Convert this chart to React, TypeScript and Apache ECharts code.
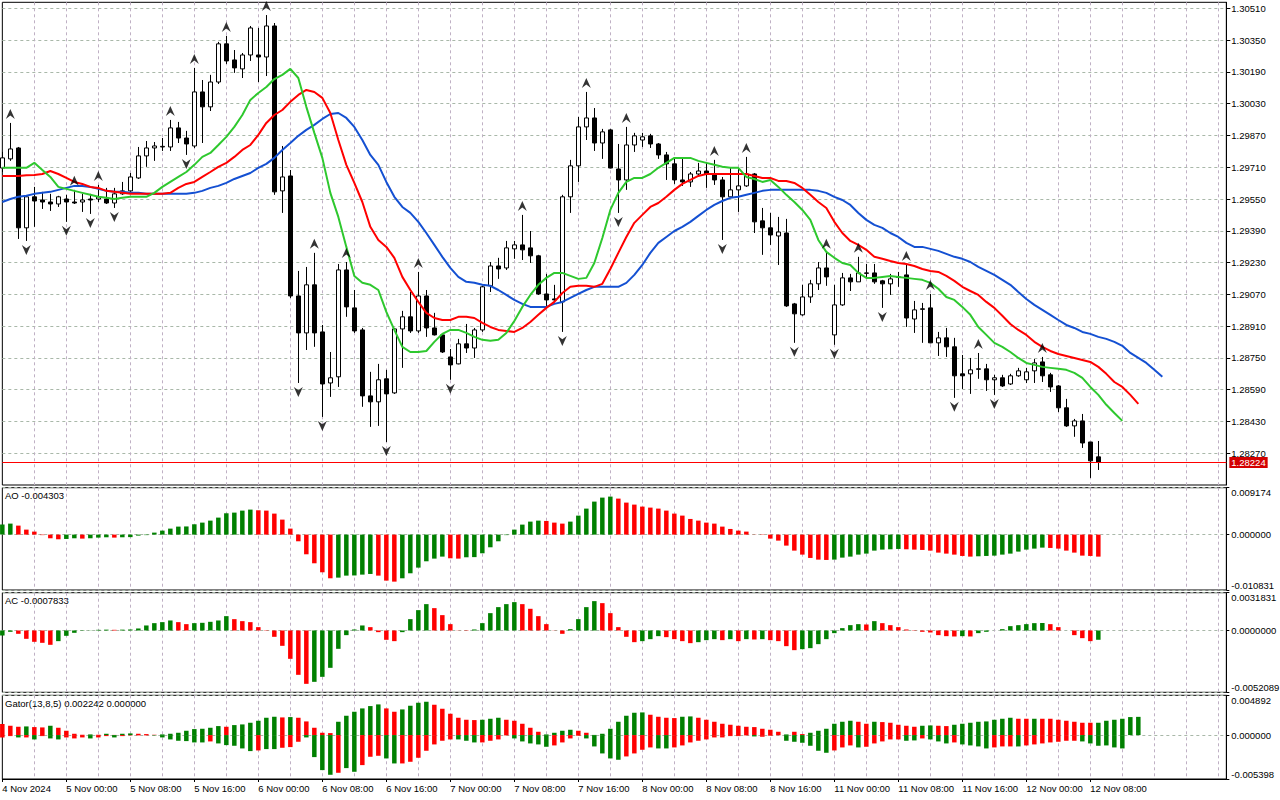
import React, { useEffect, useRef } from "react";
import * as echarts from "echarts";

const TIME_LABELS = ["4 Nov 2024","5 Nov 00:00","5 Nov 08:00","5 Nov 16:00","6 Nov 00:00","6 Nov 08:00","6 Nov 16:00","7 Nov 00:00","7 Nov 08:00","7 Nov 16:00","8 Nov 00:00","8 Nov 08:00","8 Nov 16:00","11 Nov 00:00","11 Nov 08:00","11 Nov 16:00","12 Nov 00:00","12 Nov 08:00"];
const SLOT_COUNT = 154;

const PRICE_TICKS = [1.28270,1.28430,1.28590,1.28750,1.28910,1.29070,1.29230,1.29390,1.29550,1.29710,1.29870,1.30030,1.30190,1.30350,1.30510];
const PRICE_RANGE = [1.281104, 1.305402];
const AO_RANGE = [-0.010831, 0.009174];
const AC_RANGE = [-0.0052089, 0.0031831];
const GATOR_RANGE = [-0.005398, 0.004892];

const OPEN = [1.29706,1.29752,1.29807,1.29405,1.29561,1.29545,1.29535,1.29525,1.29550,1.29535,
1.29535,1.29550,1.29550,1.29550,1.29530,1.29576,1.29591,1.29656,1.29767,1.29807,
1.29812,1.29812,1.29908,1.29857,1.29817,1.30089,1.30014,1.30139,1.30331,1.30250,
1.30205,1.30275,1.30275,1.30265,1.30421,1.29591,1.29666,1.29062,1.28876,1.29118,
1.28881,1.28624,1.28655,1.29193,1.29002,1.28891,1.28559,1.28529,1.28645,1.28574,
1.28896,1.28957,1.28886,1.29062,1.28901,1.28866,1.28755,1.28720,1.28821,1.28800,
1.28891,1.29113,1.29213,1.29203,1.29299,1.29319,1.29304,1.29264,1.29072,1.29047,
1.29032,1.29561,1.29717,1.29913,1.29958,1.29832,1.29898,1.29701,1.29646,1.29822,
1.29847,1.29868,1.29827,1.29772,1.29727,1.29646,1.29636,1.29676,1.29691,1.29676,
1.29646,1.29561,1.29596,1.29616,1.29676,1.29440,1.29405,1.29364,1.29379,1.29022,
1.28967,1.29057,1.29123,1.29203,1.28866,1.29017,1.29153,1.29133,1.29178,1.29178,
1.29138,1.29123,1.29158,1.29168,1.28946,1.28997,1.29002,1.28826,1.28851,1.28806,
1.28670,1.28670,1.28695,1.28695,1.28640,1.28650,1.28619,1.28660,1.28640,1.28685,
1.28730,1.28665,1.28609,1.28499,1.28408,1.28433,1.28327,1.28252];

const CLOSE = [1.29757,1.29802,1.29405,1.29561,1.29540,1.29535,1.29525,1.29561,1.29535,1.29530,
1.29545,1.29545,1.29561,1.29530,1.29576,1.29591,1.29661,1.29767,1.29807,1.29817,
1.29815,1.29908,1.29857,1.29827,1.30089,1.30014,1.30139,1.30331,1.30245,1.30210,
1.30275,1.30411,1.30265,1.30421,1.29586,1.29661,1.29062,1.28876,1.29118,1.28876,
1.28619,1.28650,1.29193,1.29007,1.28886,1.28559,1.28529,1.28640,1.28569,1.28896,
1.28957,1.28886,1.29062,1.28901,1.28866,1.28780,1.28715,1.28821,1.28800,1.28891,
1.29108,1.29213,1.29198,1.29304,1.29319,1.29294,1.29264,1.29072,1.29042,1.29042,
1.29561,1.29717,1.29913,1.29958,1.29832,1.29888,1.29706,1.29646,1.29822,1.29868,
1.29863,1.29827,1.29772,1.29727,1.29646,1.29636,1.29676,1.29691,1.29676,1.29646,
1.29561,1.29596,1.29616,1.29676,1.29435,1.29405,1.29369,1.29384,1.29012,1.28972,
1.29057,1.29123,1.29203,1.29158,1.29017,1.29153,1.29133,1.29178,1.29176,1.29133,
1.29123,1.29148,1.29155,1.28951,1.28992,1.28995,1.28826,1.28851,1.28806,1.28660,
1.28660,1.28690,1.28693,1.28640,1.28650,1.28609,1.28660,1.28685,1.28680,1.28725,
1.28660,1.28604,1.28499,1.28408,1.28433,1.28322,1.28232,1.28224];

const LOW = [1.29686,1.29742,1.29349,1.29339,1.29410,1.29500,1.29490,1.29510,1.29435,1.29525,
1.29485,1.29475,1.29535,1.29525,1.29505,1.29571,1.29586,1.29651,1.29712,1.29742,
1.29792,1.29792,1.29832,1.29772,1.29807,1.29832,1.29993,1.30129,1.30230,1.30185,
1.30159,1.30245,1.30139,1.30169,1.29571,1.29480,1.29052,1.28624,1.28790,1.28806,
1.28453,1.28554,1.28604,1.28957,1.28876,1.28504,1.28403,1.28408,1.28327,1.28569,
1.28700,1.28876,1.28876,1.28856,1.28863,1.28775,1.28640,1.28718,1.28775,1.28750,
1.28881,1.29082,1.29148,1.29193,1.29249,1.29243,1.29228,1.29067,1.29007,1.29032,
1.28881,1.29480,1.29636,1.29847,1.29792,1.29752,1.29704,1.29480,1.29596,1.29787,
1.29812,1.29807,1.29752,1.29646,1.29626,1.29616,1.29611,1.29671,1.29606,1.29621,
1.29344,1.29561,1.29485,1.29611,1.29379,1.29269,1.29319,1.29218,1.29007,1.28826,
1.28962,1.29027,1.29092,1.29113,1.28816,1.29012,1.29087,1.29133,1.29148,1.29123,
1.29002,1.29067,1.29108,1.28906,1.28876,1.28826,1.28824,1.28760,1.28755,1.28549,
1.28594,1.28569,1.28645,1.28584,1.28564,1.28604,1.28614,1.28655,1.28624,1.28624,
1.28629,1.28579,1.28478,1.28403,1.28353,1.28297,1.28146,1.28186];

const HIGH = [1.29787,1.29933,1.29812,1.29566,1.29611,1.29586,1.29576,1.29566,1.29571,1.29596,
1.29576,1.29576,1.29621,1.29606,1.29606,1.29636,1.29681,1.29812,1.29842,1.29837,
1.29857,1.29948,1.29938,1.29893,1.30210,1.30149,1.30175,1.30341,1.30371,1.30300,
1.30285,1.30421,1.30411,1.30476,1.30436,1.29817,1.29696,1.29188,1.29208,1.29279,
1.28916,1.28780,1.29223,1.29233,1.29092,1.28901,1.28680,1.28720,1.28690,1.28901,
1.28987,1.29082,1.29183,1.29092,1.28977,1.28871,1.28795,1.28846,1.28921,1.28901,
1.29113,1.29233,1.29254,1.29339,1.29339,1.29470,1.29389,1.29269,1.29173,1.29118,
1.29571,1.29747,1.29963,1.30089,1.30008,1.29903,1.29903,1.29827,1.29913,1.29883,
1.29883,1.29878,1.29832,1.29787,1.29752,1.29752,1.29686,1.29732,1.29732,1.29747,
1.29661,1.29706,1.29706,1.29762,1.29681,1.29505,1.29480,1.29460,1.29450,1.29027,
1.29118,1.29143,1.29233,1.29279,1.29118,1.29178,1.29173,1.29259,1.29223,1.29223,
1.29143,1.29173,1.29183,1.29218,1.29037,1.29027,1.29072,1.28881,1.28901,1.28851,
1.28765,1.28750,1.28775,1.28720,1.28665,1.28665,1.28670,1.28700,1.28700,1.28745,
1.28755,1.28675,1.28614,1.28544,1.28443,1.28468,1.28327,1.28332];

const FRACTAL_UP = [1,9,12,21,24,28,33,39,43,52,65,73,78,89,93,103,107,113,116,122,130];
const FRACTAL_DOWN = [3,8,11,14,23,37,40,48,56,70,77,90,99,104,110,119,124];

const LIPS = [1.29707,1.29707,1.29707,1.29707,1.29732,1.29696,1.29661,1.29611,1.29601,1.29591,
1.29581,1.29571,1.29561,1.29556,1.29550,1.29556,1.29561,1.29561,1.29561,1.29581,
1.29611,1.29636,1.29661,1.29686,1.29722,1.29762,1.29782,1.29822,1.29863,1.29913,
1.29973,1.30049,1.30084,1.30114,1.30154,1.30175,1.30205,1.30159,1.30014,1.29883,
1.29757,1.29581,1.29460,1.29309,1.29163,1.29128,1.29118,1.29092,1.28982,1.28891,
1.28806,1.28780,1.28780,1.28785,1.28831,1.28871,1.28891,1.28891,1.28876,1.28856,
1.28841,1.28836,1.28841,1.28876,1.28936,1.29007,1.29067,1.29118,1.29153,1.29178,
1.29178,1.29163,1.29148,1.29153,1.29228,1.29354,1.29495,1.29581,1.29636,1.29656,
1.29656,1.29676,1.29707,1.29732,1.29757,1.29757,1.29757,1.29742,1.29732,1.29722,
1.29712,1.29707,1.29707,1.29661,1.29651,1.29636,1.29646,1.29611,1.29571,1.29535,
1.29495,1.29445,1.29344,1.29284,1.29254,1.29228,1.29218,1.29178,1.29153,1.29153,
1.29158,1.29163,1.29158,1.29153,1.29148,1.29143,1.29128,1.29098,1.29057,1.29042,
1.29007,1.28967,1.28906,1.28866,1.28826,1.28806,1.28780,1.28750,1.28725,1.28715,
1.28705,1.28700,1.28695,1.28690,1.28675,1.28650,1.28604,1.28564,1.28514,1.28473,
1.28433];

const TEETH = [1.29666,1.29666,1.29666,1.29669,1.29671,1.29676,1.29691,1.29676,1.29656,1.29636,
1.29626,1.29611,1.29606,1.29591,1.29586,1.29581,1.29576,1.29576,1.29576,1.29576,
1.29576,1.29581,1.29606,1.29626,1.29636,1.29661,1.29686,1.29712,1.29732,1.29762,
1.29797,1.29822,1.29873,1.29933,1.29973,1.29998,1.30039,1.30074,1.30099,1.30089,
1.30059,1.29983,1.29847,1.29722,1.29631,1.29535,1.29410,1.29344,1.29309,1.29254,
1.29158,1.29092,1.29032,1.28977,1.28951,1.28941,1.28941,1.28957,1.28957,1.28951,
1.28926,1.28906,1.28891,1.28886,1.28881,1.28901,1.28931,1.28967,1.29002,1.29032,
1.29077,1.29108,1.29113,1.29113,1.29108,1.29123,1.29198,1.29279,1.29359,1.29430,
1.29470,1.29510,1.29530,1.29561,1.29596,1.29626,1.29646,1.29666,1.29676,1.29676,
1.29676,1.29676,1.29676,1.29676,1.29666,1.29656,1.29656,1.29641,1.29641,1.29631,
1.29606,1.29571,1.29535,1.29505,1.29435,1.29379,1.29339,1.29319,1.29294,1.29259,
1.29249,1.29238,1.29228,1.29223,1.29213,1.29198,1.29188,1.29183,1.29163,1.29138,
1.29108,1.29087,1.29067,1.29032,1.29002,1.28962,1.28921,1.28891,1.28866,1.28831,
1.28806,1.28785,1.28770,1.28760,1.28750,1.28740,1.28730,1.28705,1.28670,1.28629,
1.28604,1.28564,1.28519];

const JAW = [1.29535,1.29550,1.29561,1.29566,1.29576,1.29581,1.29586,1.29596,1.29606,1.29616,
1.29616,1.29611,1.29601,1.29591,1.29586,1.29586,1.29581,1.29581,1.29576,1.29576,
1.29576,1.29576,1.29576,1.29576,1.29581,1.29591,1.29606,1.29616,1.29631,1.29651,
1.29666,1.29681,1.29707,1.29727,1.29757,1.29797,1.29832,1.29868,1.29898,1.29923,
1.29953,1.29978,1.29983,1.29958,1.29913,1.29847,1.29772,1.29722,1.29636,1.29561,
1.29510,1.29480,1.29435,1.29379,1.29319,1.29259,1.29203,1.29158,1.29133,1.29128,
1.29118,1.29113,1.29092,1.29067,1.29042,1.29022,1.29007,1.29007,1.29007,1.29022,
1.29032,1.29052,1.29072,1.29092,1.29108,1.29108,1.29108,1.29108,1.29128,1.29168,
1.29218,1.29279,1.29329,1.29359,1.29389,1.29410,1.29435,1.29465,1.29495,1.29520,
1.29540,1.29556,1.29561,1.29571,1.29581,1.29591,1.29596,1.29596,1.29596,1.29596,
1.29596,1.29596,1.29591,1.29581,1.29561,1.29545,1.29520,1.29480,1.29445,1.29420,
1.29405,1.29379,1.29359,1.29329,1.29309,1.29309,1.29299,1.29289,1.29274,1.29259,
1.29249,1.29233,1.29208,1.29188,1.29168,1.29143,1.29118,1.29082,1.29047,1.29017,
1.28992,1.28967,1.28941,1.28916,1.28901,1.28881,1.28871,1.28856,1.28846,1.28831,
1.28811,1.28775,1.28750,1.28725,1.28690,1.28655];

const AO = [0.001956,0.002152,0.001760,0.000978,0.000587,-0.000098,-0.000717,-0.000913,-0.000848,-0.000717,
-0.000782,-0.000717,-0.000587,-0.000522,-0.000587,-0.000522,-0.000489,-0.000196,-0.000098,0.000391,
0.000782,0.001174,0.001565,0.001597,0.002021,0.002347,0.002738,0.003325,0.004173,0.004303,
0.004694,0.004890,0.004760,0.004694,0.004108,0.002934,0.001174,-0.001304,-0.003847,-0.005607,
-0.007368,-0.008541,-0.008411,-0.008020,-0.007987,-0.007824,-0.007694,-0.008020,-0.008998,-0.009193,
-0.008541,-0.007563,-0.006455,-0.005216,-0.004694,-0.004303,-0.004629,-0.004694,-0.004434,-0.004401,
-0.003651,-0.002478,-0.001304,-0.000098,0.000978,0.001956,0.002543,0.002738,0.002673,0.002347,
0.002152,0.002543,0.003716,0.005086,0.006455,0.007237,0.007433,0.007042,0.006259,0.005868,
0.005477,0.005281,0.005086,0.004694,0.004108,0.003716,0.003064,0.002738,0.002347,0.002152,
0.001565,0.001108,0.000782,0.000587,0.000033,-0.000065,-0.000782,-0.001174,-0.002152,-0.003130,
-0.003912,-0.004564,-0.004890,-0.004955,-0.004890,-0.004499,-0.004303,-0.003912,-0.003716,-0.003130,
-0.002934,-0.002869,-0.002804,-0.002869,-0.002934,-0.002999,-0.003130,-0.003521,-0.003716,-0.003912,
-0.004173,-0.004303,-0.004238,-0.004173,-0.004108,-0.003912,-0.003716,-0.003325,-0.002934,-0.002738,
-0.002543,-0.002608,-0.002738,-0.003130,-0.003521,-0.004108,-0.004173,-0.004303];

const AC = [-0.000422,-0.000112,-0.000281,-0.000703,-0.000955,-0.001040,-0.001208,-0.000899,-0.000450,-0.000197,
-0.000028,0.000014,0.000056,0.000070,0.000056,0.000070,0.000084,0.000169,0.000422,0.000618,
0.000703,0.000843,0.000703,0.000534,0.000618,0.000646,0.000731,0.000843,0.001208,0.000955,
0.000787,0.000703,0.000281,-0.000028,-0.000534,-0.001293,-0.002389,-0.003737,-0.004496,-0.004327,
-0.003906,-0.003147,-0.001546,-0.000393,0.000084,0.000422,0.000281,-0.000141,-0.000787,-0.000899,
-0.000141,0.000955,0.001714,0.002220,0.001883,0.001293,0.000534,-0.000014,-0.000028,0.000084,
0.000618,0.001461,0.001967,0.002220,0.002389,0.002220,0.001827,0.001208,0.000534,-0.000014,
-0.000281,0.000112,0.000955,0.001967,0.002473,0.002304,0.001461,0.000281,-0.000534,-0.000984,
-0.000899,-0.000731,-0.000478,-0.000562,-0.000731,-0.000899,-0.001068,-0.000984,-0.000815,-0.000731,
-0.000815,-0.000731,-0.000899,-0.000731,-0.000759,-0.000731,-0.000815,-0.000899,-0.001321,-0.001658,
-0.001574,-0.001489,-0.001152,-0.000731,-0.000225,0.000197,0.000450,0.000534,0.000506,0.000787,
0.000618,0.000450,0.000281,0.000084,-0.000028,-0.000112,-0.000169,-0.000393,-0.000478,-0.000506,
-0.000478,-0.000506,-0.000225,-0.000112,0.000000,0.000112,0.000365,0.000450,0.000534,0.000618,
0.000632,0.000534,0.000281,0.000000,-0.000393,-0.000646,-0.000899,-0.0007833];

const GATOR_UP = [0.001353,0.001148,0.001025,0.001066,0.000984,0.000943,0.001148,0.000902,0.000533,0.000164,
0.000041,0.000082,0.000041,0.000164,0.000021,0.000164,0.000205,0.000164,0.000123,0.000041,
0.000082,0.000164,0.000287,0.000533,0.000738,0.000779,0.000902,0.001107,0.001025,0.001230,
0.001312,0.001517,0.001763,0.002132,0.002255,0.002173,0.002214,0.002132,0.001681,0.000902,
0.000287,0.000246,0.001640,0.002378,0.002870,0.003280,0.003567,0.003772,0.003280,0.002870,
0.003157,0.003608,0.003977,0.004100,0.003731,0.003239,0.002624,0.002132,0.001886,0.001845,
0.001886,0.002009,0.002132,0.001886,0.001763,0.001394,0.000902,0.000410,0.000082,0.000287,
0.000533,0.000656,0.000533,0.000287,0.000021,0.000164,0.000779,0.001640,0.002378,0.002747,
0.002788,0.002501,0.002255,0.002132,0.002091,0.002255,0.002296,0.002132,0.001886,0.001640,
0.001394,0.001271,0.001148,0.001025,0.000984,0.000779,0.000656,0.000410,0.000082,0.000410,
0.000123,0.000287,0.000533,0.000779,0.001394,0.001640,0.001763,0.001640,0.001394,0.001640,
0.001599,0.001517,0.001271,0.001148,0.001025,0.001148,0.001189,0.001148,0.001107,0.001271,
0.001394,0.001517,0.001640,0.001681,0.001886,0.002009,0.002132,0.002009,0.002009,0.002009,
0.002009,0.002009,0.001886,0.001763,0.001640,0.001517,0.001517,0.001517,0.001763,0.001886,
0.002009,0.002214,0.002242];

const GATOR_DOWN = [-0.000287,-0.000123,-0.000287,-0.000287,-0.000533,-0.000123,-0.000410,-0.000533,-0.000287,-0.000410,
-0.000287,-0.000410,-0.000287,-0.000123,-0.000287,-0.000123,-0.000041,-0.000041,-0.000041,-0.000041,
-0.000287,-0.000533,-0.000697,-0.000738,-0.000902,-0.000902,-0.000779,-0.001025,-0.001230,-0.001312,
-0.001640,-0.001968,-0.001886,-0.001722,-0.001722,-0.001558,-0.001476,-0.000820,-0.000287,-0.002706,
-0.004305,-0.004879,-0.004633,-0.004059,-0.004510,-0.003690,-0.002665,-0.002542,-0.002870,-0.003485,
-0.003485,-0.003280,-0.002788,-0.001927,-0.001148,-0.000697,-0.000533,-0.000533,-0.000697,-0.000902,
-0.000902,-0.000697,-0.000533,-0.000041,-0.000410,-0.000779,-0.001025,-0.001148,-0.001435,-0.001271,
-0.000902,-0.000410,-0.000082,-0.000410,-0.001394,-0.002255,-0.002870,-0.003034,-0.002624,-0.002255,
-0.001804,-0.001517,-0.001640,-0.001640,-0.001517,-0.001271,-0.000902,-0.000697,-0.000533,-0.000287,
-0.000287,-0.000123,-0.000123,-0.000041,-0.000164,-0.000205,-0.000082,-0.000021,-0.000697,-0.000820,
-0.000943,-0.001312,-0.001927,-0.002173,-0.001886,-0.001517,-0.001271,-0.001517,-0.001435,-0.001025,
-0.000779,-0.000533,-0.000533,-0.000697,-0.000656,-0.000410,-0.000533,-0.000779,-0.001025,-0.000902,
-0.001148,-0.001271,-0.001394,-0.001640,-0.001517,-0.001394,-0.001394,-0.001394,-0.001271,-0.001148,
-0.001025,-0.000902,-0.000820,-0.000697,-0.000697,-0.000779,-0.001025,-0.001312,-0.001271,-0.001517,
-0.001640,0,0];

const GATOR_UP_FLAGS = ["RRRGRRGRRR","RGRGRGGRRR","GGGGGGGGRG","GGGGGRGRRR","RRGGGGGGRR","GGGGRRRRRR","GGGRRRRRGG","GGRRGGGGGG","GRRRRGGRRR","RRRRRRRRGR","RGGGGGGRRG","RRRRRGGRRG","GGGGGGGRRG","RRRRRRRGGG","GGG"].join("");
const GATOR_DOWN_FLAGS = ["RRGRGRGGRR","RGRRGRRRRG","GGGGGGRGGG","GGRGGRRRGG","GGRGGRRRGG","RRRRRRRGGG","RRRRGGGGGR","RRRGGGGGRR","RRGGRRRRRR","RRRRGRRRGG","GGGGRRRGRR","RRRGGRGGGR","GGGGRRRGRR","RRRRRGGGGG","GRR"].join("");

const FONT = '"Liberation Sans", Arial, sans-serif';
const FS = 9.5;
const GREEN = "#008000";
const RED = "#ff0000";
const VGRID = "#bfb0c4";
const HGRID = "#a9b8a9";

const upDown = (vals: number[]) => vals.map((v, i) => (i === 0 || v > vals[i - 1] ? GREEN : RED));
const flags = (s: string) => s.split("").map((c) => (c === "G" ? GREEN : RED));

const UP_ARROW = "path://M5,0 L10,10 L5,6.6 L0,10 Z";
const DOWN_ARROW = "path://M0,0 L5,3.4 L10,0 L5,10 Z";

export default function App() {
  const ref = useRef<HTMLDivElement>(null);
  useEffect(() => {
    document.body.style.margin = "0";
    const chart = echarts.init(ref.current!, undefined, { renderer: "svg" });
    const cats = Array.from({ length: SLOT_COUNT }, (_, i) => String(i));
    const gridDefs = [
      { top: 2.3, height: 482.7 },
      { top: 487.7, height: 102.3 },
      { top: 592.7, height: 99.6 },
      { top: 695.3, height: 83.7 },
    ];
    const grid = gridDefs.map((g) => ({
      left: 2.33,
      right: 53.67,
      top: g.top,
      height: g.height,
      show: true,
      borderColor: "#000",
      borderWidth: 1,
      backgroundColor: "#fff",
      outerBoundsMode: "none",
      containLabel: false,
    }));
    const xAxis = gridDefs.map((_, gi) => ({
      type: "category",
      gridIndex: gi,
      data: cats,
      boundaryGap: false,
      position: "bottom",
      axisLine: { show: gi === 3, onZero: false, lineStyle: { color: "#000", width: 1 } },
      axisTick: {
        show: gi === 3,
        interval: (idx: number) => idx % 8 === 0 && idx / 8 < TIME_LABELS.length,
        length: 3,
        lineStyle: { color: "#000" },
      },
      axisLabel: {
        show: gi === 3,
        interval: (idx: number) => idx % 8 === 0 && idx / 8 < TIME_LABELS.length,
        formatter: (v: string) => {
          const i = Number(v);
          return i % 8 === 0 ? TIME_LABELS[i / 8] ?? "" : "";
        },
        align: "left",
        margin: 4,
        color: "#000",
        fontFamily: FONT,
        fontSize: FS,
        hideOverlap: false,
      },
      splitLine: {
        show: true,
        interval: (idx: number) => idx % 4 === 0 && idx > 0,
        lineStyle: { color: VGRID, type: [3, 3], width: 1 },
      },
    }));
    const subAxis = (gi: number, range: number[], dec: number) => {
      const vals = [range[0], 0, range[1]];
      return {
        type: "value",
        gridIndex: gi,
        position: "right",
        min: range[0],
        max: range[1],
        axisLine: { show: true, lineStyle: { color: "#000" } },
        axisTick: { show: true, customValues: vals, length: 3, lineStyle: { color: "#000" } },
        axisLabel: {
          customValues: vals,
          formatter: (v: number) => v.toFixed(dec),
          color: "#000",
          fontFamily: FONT,
          fontSize: FS,
          margin: 5,
          verticalAlignMinLabel: "bottom",
          verticalAlignMaxLabel: "top",
          showMinLabel: true,
          showMaxLabel: true,
        },
        splitLine: { show: true, lineStyle: { color: HGRID, type: [3, 3], width: 1 } },
      };
    };
    const yAxis = [
      {
        type: "value",
        gridIndex: 0,
        position: "right",
        min: PRICE_RANGE[0],
        max: PRICE_RANGE[1],
        axisLine: { show: true, lineStyle: { color: "#000" } },
        axisTick: { show: true, customValues: PRICE_TICKS, length: 4, lineStyle: { color: "#000" } },
        axisLabel: {
          customValues: PRICE_TICKS,
          formatter: (v: number) => v.toFixed(5),
          color: "#000",
          fontFamily: FONT,
          fontSize: FS,
          margin: 5,
        },
        splitLine: { show: true, lineStyle: { color: HGRID, type: [3, 3], width: 1 } },
      },
      subAxis(1, AO_RANGE, 6),
      subAxis(2, AC_RANGE, 7),
      subAxis(3, GATOR_RANGE, 6),
    ];
    const aoColors = upDown(AO);
    const acColors = upDown(AC);
    const guColors = flags(GATOR_UP_FLAGS);
    const gdColors = flags(GATOR_DOWN_FLAGS);
    const last = CLOSE[CLOSE.length - 1];
    const lineSeries = (data: number[], color: string) => ({
      type: "line",
      xAxisIndex: 0,
      yAxisIndex: 0,
      data,
      showSymbol: false,
      symbol: "none",
      lineStyle: { color, width: 2 },
      z: 4,
      silent: true,
    });
    const option = {
      animation: false,
      backgroundColor: "#fff",
      grid,
      xAxis,
      yAxis,
      graphic: [
        { type: "text", left: 5, top: 490, style: { text: "AO " + AO[AO.length - 1].toFixed(6), font: `${FS}px ${FONT}`, fill: "#000" } },
        { type: "text", left: 5, top: 595, style: { text: "AC " + AC[AC.length - 1].toFixed(7), font: `${FS}px ${FONT}`, fill: "#000" } },
        { type: "text", left: 5, top: 698, style: { text: `Gator(13,8,5) ${GATOR_UP[GATOR_UP.length - 1].toFixed(6)} ${Math.abs(GATOR_DOWN[GATOR_DOWN.length - 1]).toFixed(6)}`, font: `${FS}px ${FONT}`, fill: "#000" } },
      ],
      series: [
        {
          type: "candlestick",
          xAxisIndex: 0,
          yAxisIndex: 0,
          data: OPEN.map((o, i) => [o, CLOSE[i], LOW[i], HIGH[i]]),
          barWidth: 5,
          itemStyle: { color: "#fff", color0: "#000", borderColor: "#000", borderColor0: "#000", borderWidth: 1 },
          z: 2,
          silent: true,
        },
        {
          type: "line",
          xAxisIndex: 0,
          yAxisIndex: 0,
          data: [],
          symbol: "none",
          silent: true,
          z: 3,
          markLine: {
            silent: true,
            symbol: ["none", "none"],
            animation: false,
            lineStyle: { color: "#ff0000", width: 1, type: "solid" },
            label: {
              show: true,
              position: "end",
              formatter: () => last.toFixed(5),
              color: "#fff",
              backgroundColor: "#d40000",
              padding: [1, 2, 0, 2],
              fontFamily: FONT,
              fontSize: FS,
              distance: 3,
            },
            data: [[{ coord: [0, last] }, { coord: [SLOT_COUNT - 1, last] }]],
          },
        },
        lineSeries(JAW, "#1450d2"),
        lineSeries(TEETH, "#ff0000"),
        lineSeries(LIPS, "#2ec82e"),
        {
          type: "scatter",
          xAxisIndex: 0,
          yAxisIndex: 0,
          data: FRACTAL_UP.map((i) => [i, HIGH[i]]),
          symbol: UP_ARROW,
          symbolSize: [9, 10],
          symbolOffset: [0, -9],
          itemStyle: { color: "#000" },
          z: 5,
          silent: true,
        },
        {
          type: "scatter",
          xAxisIndex: 0,
          yAxisIndex: 0,
          data: FRACTAL_DOWN.map((i) => [i, LOW[i]]),
          symbol: DOWN_ARROW,
          symbolSize: [9, 10],
          symbolOffset: [0, 9],
          itemStyle: { color: "#000" },
          z: 5,
          silent: true,
        },
        {
          type: "bar",
          xAxisIndex: 1,
          yAxisIndex: 1,
          barWidth: 4.5,
          data: AO.map((v, i) => ({ value: v, itemStyle: { color: aoColors[i] } })),
          silent: true,
        },
        {
          type: "bar",
          xAxisIndex: 2,
          yAxisIndex: 2,
          barWidth: 4.5,
          data: AC.map((v, i) => ({ value: v, itemStyle: { color: acColors[i] } })),
          silent: true,
        },
        {
          type: "bar",
          xAxisIndex: 3,
          yAxisIndex: 3,
          barWidth: 4.5,
          barGap: "-100%",
          data: GATOR_UP.map((v, i) => ({ value: v, itemStyle: { color: guColors[i] } })),
          silent: true,
        },
        {
          type: "bar",
          xAxisIndex: 3,
          yAxisIndex: 3,
          barWidth: 4.5,
          barGap: "-100%",
          data: GATOR_DOWN.map((v, i) => ({ value: v, itemStyle: { color: gdColors[i] } })),
          silent: true,
        },
      ],
    };
    chart.setOption(option as any);
    return () => chart.dispose();
  }, []);
  return <div ref={ref} style={{ width: 1280, height: 800, background: "#fff" }} />;
}
